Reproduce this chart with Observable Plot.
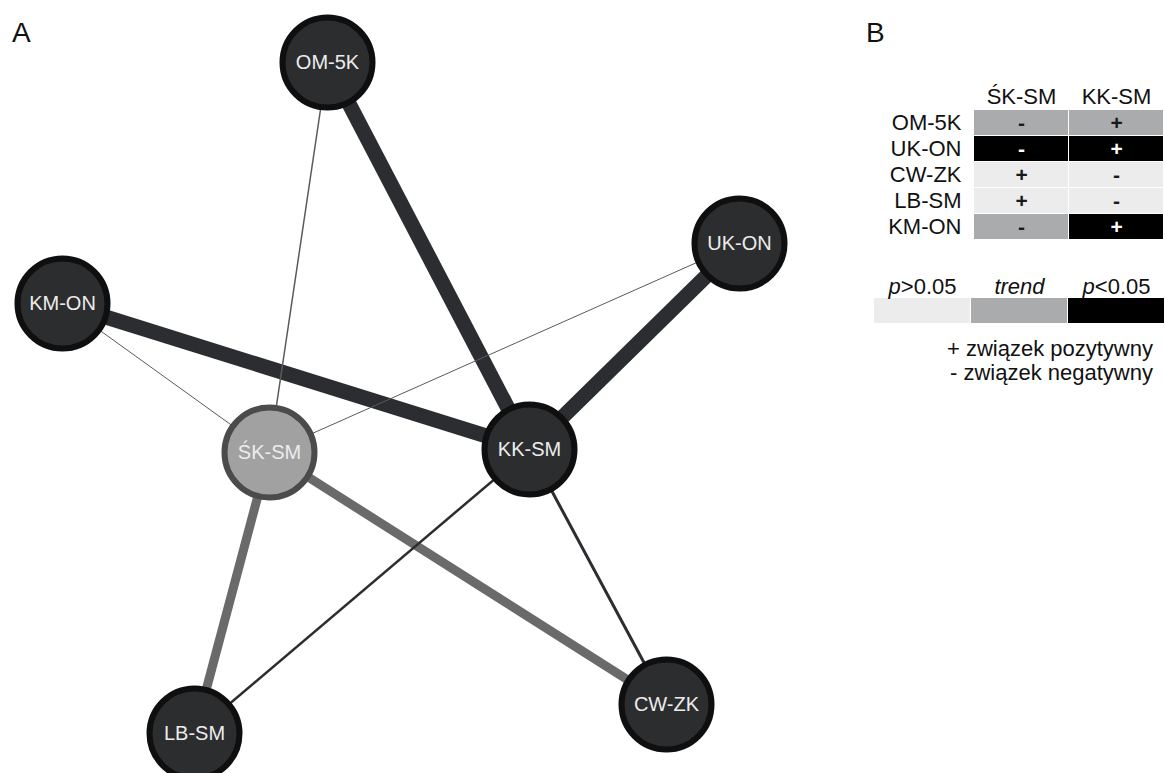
<!DOCTYPE html>
<html>
<head>
<meta charset="utf-8">
<script src="https://cdn.jsdelivr.net/npm/d3@7"></script>
<script src="https://cdn.jsdelivr.net/npm/@observablehq/plot@0.6"></script>
<style>
  html, body { margin: 0; padding: 0; background: #fff; }
  body { width: 1165px; height: 773px; position: relative; overflow: hidden;
         font-family: "Liberation Sans", Arial, sans-serif; }
  .panel { position: absolute; font-size: 28px; color: #111; }
  #netwrap { position: absolute; left: 0; top: 0; }
  #tablewrap { position: absolute; left: 860px; top: 0; }
  #legendwrap { position: absolute; left: 860px; top: 260px; }
  .note { position: absolute; right: 12px; font-size: 22px; color: #111; text-align: right; line-height: 24px; }
</style>
</head>
<body>
<div class="panel" style="left:12px; top:17px;">A</div>
<div class="panel" style="left:866px; top:17px;">B</div>
<div id="netwrap"></div>
<div id="tablewrap"></div>
<div id="legendwrap"></div>
<div class="note" style="top:337px;">+ związek pozytywny<br>- związek negatywny</div>
<script>
// ---- Network data (layout positions in picture units) ----
const nodeNames = ["OM-5K", "UK-ON", "KM-ON", "ŚK-SM", "KK-SM", "LB-SM", "CW-ZK"];
const nodeX = [327, 739, 62, 269, 529, 194, 666];
const nodeY = [62, 243, 303, 452, 449, 733, 704];
const nodeKind = ["dark", "dark", "dark", "light", "dark", "dark", "dark"];

const edgeFrom = ["OM-5K", "UK-ON", "KM-ON", "ŚK-SM", "ŚK-SM", "KK-SM", "KK-SM", "OM-5K", "UK-ON", "KM-ON"];
const edgeTo   = ["KK-SM", "KK-SM", "KK-SM", "LB-SM", "CW-ZK", "LB-SM", "CW-ZK", "ŚK-SM", "ŚK-SM", "ŚK-SM"];
const edgeWeight = [15, 15, 15, 9, 9, 2.5, 3, 1.5, 1, 1];
const edgeTone = ["k", "k", "k", "g", "g", "k", "k", "t", "t", "t"];

// ---- Table data ----
const tableRows = ["OM-5K", "UK-ON", "CW-ZK", "LB-SM", "KM-ON"];
const tableCols = ["ŚK-SM", "KK-SM"];
const signSK = ["-", "-", "+", "+", "-"];
const signKK = ["+", "+", "-", "-", "+"];
const levelSK = ["trend", "p<0.05", "p>0.05", "p>0.05", "trend"];
const levelKK = ["trend", "p<0.05", "p>0.05", "p>0.05", "p<0.05"];
const legendLevels = ["p>0.05", "trend", "p<0.05"];
const levelColors = ["#ececec", "#a9abad", "#000000"];

const FONT = "Liberation Sans, Arial, sans-serif";

// ---- Build network ----
const nodes = nodeNames.map((name, i) => ({name, x: nodeX[i], y: nodeY[i], kind: nodeKind[i]}));
const byName = new Map(nodes.map(d => [d.name, d]));
const edges = edgeFrom.map((f, i) => ({
  x1: byName.get(f).x, y1: byName.get(f).y,
  x2: byName.get(edgeTo[i]).x, y2: byName.get(edgeTo[i]).y,
  w: edgeWeight[i], tone: edgeTone[i]
}));
const toneColor = {k: "#2b2d30", g: "#6a6a6a", t: "#5a5a5a"};

const net = Plot.plot({
  width: 860, height: 773,
  margin: 0,
  x: {domain: [0, 860], range: [0, 860], axis: null},
  y: {domain: [0, 773], range: [0, 773], axis: null},
  style: {background: "transparent"},
  marks: [
    Plot.link(edges, {x1: "x1", y1: "y1", x2: "x2", y2: "y2",
      stroke: d => toneColor[d.tone], strokeWidth: "w", strokeLinecap: "butt"}),
    Plot.dot(nodes, {x: "x", y: "y", r: 45,
      fill: d => d.kind === "light" ? "#a1a1a1" : "#2c2d2f",
      stroke: d => d.kind === "light" ? "#4b4b4b" : "#0f0f0f",
      strokeWidth: 6}),
    Plot.text(nodes, {x: "x", y: "y", text: "name", fill: "#ececec",
      fontSize: 20, fontFamily: FONT})
  ]
});
document.getElementById("netwrap").appendChild(net);

// ---- Build table ----
const cells = [];
tableRows.forEach((r, i) => {
  cells.push({row: r, col: tableCols[0], sign: signSK[i], level: levelSK[i]});
  cells.push({row: r, col: tableCols[1], sign: signKK[i], level: levelKK[i]});
});
const table = Plot.plot({
  width: 305, height: 250,
  margin: 0,
  x: {type: "band", domain: tableCols, range: [113, 305], padding: 0.01, axis: null},
  y: {type: "band", domain: tableRows, range: [107, 242], padding: 0.05, axis: null},
  color: {domain: legendLevels, range: levelColors},
  style: {background: "transparent"},
  marks: [
    Plot.cell(cells, {x: "col", y: "row", fill: "level", inset: 0}),
    Plot.text(cells, {x: "col", y: "row", text: "sign", fontSize: 21, fontWeight: "bold",
      fill: d => d.level === "p<0.05" ? "#fff" : "#1a1a1a", fontFamily: FONT}),
    Plot.axisX({anchor: "top", tickSize: 0, tickPadding: 4, fontSize: 22, label: null,
      fill: "#111", fontFamily: FONT, dy: 107}),
    Plot.axisY({anchor: "left", tickSize: 0, tickPadding: 12, fontSize: 22, label: null,
      fill: "#111", fontFamily: FONT, dx: 113})
  ]
});
document.getElementById("tablewrap").appendChild(table);

// ---- Legend ----
const legend = Plot.plot({
  width: 305, height: 70,
  margin: 0,
  x: {type: "band", domain: legendLevels, range: [13, 305], padding: 0.01, axis: null},
  y: {domain: [0, 1], range: [38, 63], axis: null},
  color: {domain: legendLevels, range: levelColors},
  style: {background: "transparent"},
  marks: [
    Plot.barY(legendLevels, {x: d => d, y1: 0, y2: 1, fill: d => d}),
    Plot.axisX({anchor: "top", tickSize: 0, tickPadding: 5, fontSize: 22, label: null,
      fill: "#111", fontFamily: FONT, dy: 38, tickFormat: d => d})
  ]
});
// italicize the "p" and the word "trend" only
d3.select(legend).selectAll('g[aria-label="x-axis tick label"] text').each(function () {
  const t = this.textContent;
  const sel = d3.select(this);
  sel.text(null);
  if (t.startsWith("p")) {
    sel.append("tspan").attr("font-style", "italic").text("p");
    sel.append("tspan").text(t.slice(1));
  } else {
    sel.append("tspan").attr("font-style", "italic").text(t);
  }
});
document.getElementById("legendwrap").appendChild(legend);
</script>
</body>
</html>
